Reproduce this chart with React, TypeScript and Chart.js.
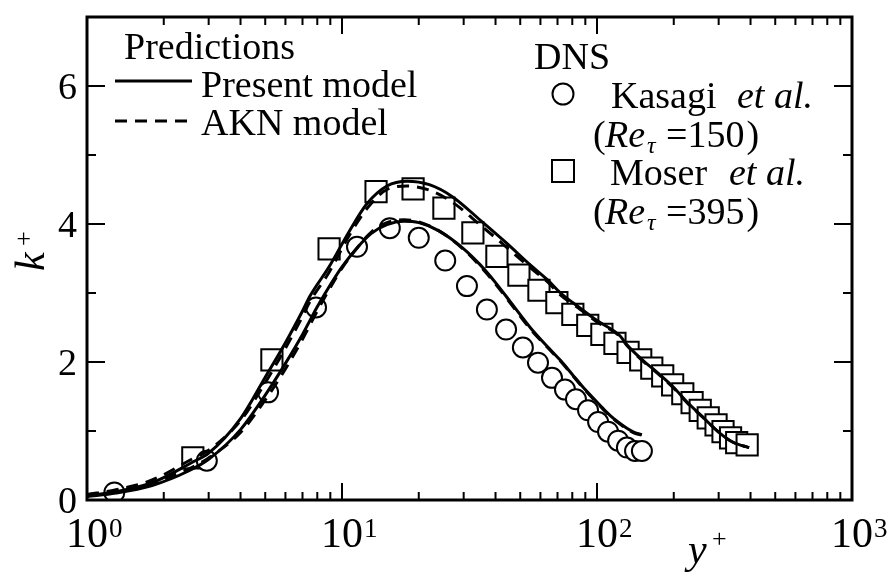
import React, { useEffect, useRef } from "react";
import { Chart, registerables } from "chart.js";

Chart.register(...registerables);

// ---- Model predictions, Re_tau = 150 ----
const yPlusModel150 = [1, 1.3, 1.8, 2.5, 3, 4, 5, 6, 7, 8, 9, 10, 11.5, 13, 15, 17.5, 20, 24, 30, 35, 40, 46, 55, 64, 72, 80, 87, 97, 106, 113, 122, 131, 140, 150];
const kPresent150 = [0.05, 0.1, 0.21, 0.42, 0.59, 1.02, 1.52, 1.98, 2.4, 2.8, 3.12, 3.38, 3.66, 3.86, 3.99, 4.04, 4.02, 3.9, 3.64, 3.4, 3.15, 2.86, 2.49, 2.22, 2.02, 1.82, 1.66, 1.47, 1.32, 1.22, 1.12, 1.04, 0.98, 0.945];
const kAKN150 = [0.07, 0.13, 0.25, 0.45, 0.61, 0.98, 1.45, 1.9, 2.33, 2.74, 3.08, 3.36, 3.66, 3.88, 4.02, 4.06, 4.03, 3.9, 3.63, 3.38, 3.13, 2.84, 2.47, 2.21, 2.01, 1.81, 1.65, 1.46, 1.31, 1.21, 1.11, 1.03, 0.97, 0.94];

// ---- Model predictions, Re_tau = 395 ----
const yPlusModel395 = [1, 1.3, 1.8, 2.6, 3, 4, 5, 6, 7, 7.5, 8.9, 10.7, 12.5, 15, 18, 22, 27, 35, 44, 55, 64, 72, 86, 100, 123, 131, 156, 166, 200, 224, 260, 303, 340, 370, 395];
const kPresent395 = [0.06, 0.12, 0.25, 0.55, 0.68, 1.18, 1.78, 2.28, 2.74, 2.96, 3.38, 3.9, 4.29, 4.55, 4.62, 4.57, 4.4, 4.05, 3.73, 3.4, 3.19, 3.0, 2.78, 2.6, 2.38, 2.25, 1.98, 1.9, 1.63, 1.43, 1.2, 0.97, 0.84, 0.79, 0.76];
const kAKN395 = [0.08, 0.15, 0.29, 0.6, 0.72, 1.15, 1.7, 2.2, 2.66, 2.88, 3.3, 3.84, 4.22, 4.5, 4.55, 4.49, 4.32, 3.98, 3.67, 3.36, 3.16, 2.97, 2.76, 2.58, 2.37, 2.24, 1.97, 1.89, 1.62, 1.42, 1.2, 0.97, 0.84, 0.79, 0.76];

// ---- DNS: Kasagi et al. (Re_tau = 150) ----
const yPlusKasagi = [1.28, 2.95, 5.13, 7.91, 11.45, 15.4, 20.0, 25.4, 30.9, 37.0, 44.0, 51.2, 58.7, 66.6, 74.9, 82.7, 92.2, 101, 110.5, 121, 131, 141, 150];
const kKasagi = [0.11, 0.57, 1.56, 2.79, 3.67, 3.94, 3.8, 3.47, 3.1, 2.76, 2.47, 2.21, 1.99, 1.77, 1.6, 1.46, 1.3, 1.13, 0.99, 0.86, 0.76, 0.71, 0.71];

// ---- DNS: Moser et al. (Re_tau = 395) ----
const yPlusMoser = [2.6, 5.31, 8.9, 13.6, 19.0, 25.1, 32.6, 40.5, 49.4, 59.2, 69.6, 80.4, 92.0, 104.5, 117.6, 132.4, 148.4, 164, 181, 198, 217, 236, 254, 273, 293, 312, 334, 353, 388];
const kMoser = [0.61, 2.03, 3.64, 4.47, 4.51, 4.23, 3.87, 3.53, 3.26, 3.04, 2.86, 2.69, 2.53, 2.4, 2.27, 2.14, 2.03, 1.91, 1.8, 1.67, 1.54, 1.41, 1.3, 1.19, 1.09, 0.99, 0.9, 0.83, 0.8];

// ---- Axes ----
const xMajorTicks = [1, 10, 100, 1000];
const xTickExponents = ["0", "1", "2", "3"];
const yMajorTicks = [0, 2, 4, 6];
const yMinorTicks = [1, 3, 5];

const FONT = "'Liberation Serif', 'Times New Roman', serif";

export default function App() {
  const ref = useRef<HTMLCanvasElement>(null);

  useEffect(() => {
    const canvas = ref.current;
    if (!canvas) return;
    const pts = (xs: number[], ys: number[]) => xs.map((x, i) => ({ x, y: ys[i] }));

    const decor = {
      id: "decor",
      afterDraw(chart: any) {
        const ctx = chart.ctx as CanvasRenderingContext2D;
        const { left, right, top, bottom } = chart.chartArea;
        const xs = chart.scales.x;
        const ys = chart.scales.y;
        ctx.save();
        ctx.strokeStyle = "#000";
        ctx.fillStyle = "#000";
        ctx.lineCap = "butt";

        // inward ticks
        ctx.lineWidth = 2;
        const xMinor: number[] = [];
        for (let d = 1; d < 1000; d *= 10) for (let m = 2; m <= 9; m++) xMinor.push(d * m);
        const vt = (px: number, len: number) => {
          ctx.beginPath();
          ctx.moveTo(px, bottom);
          ctx.lineTo(px, bottom - len);
          ctx.moveTo(px, top);
          ctx.lineTo(px, top + len);
          ctx.stroke();
        };
        xMinor.forEach((v) => vt(xs.getPixelForValue(v), 8));
        xMajorTicks.forEach((v) => vt(xs.getPixelForValue(v), 17));
        const ht = (py: number, len: number) => {
          ctx.beginPath();
          ctx.moveTo(left, py);
          ctx.lineTo(left + len, py);
          ctx.moveTo(right, py);
          ctx.lineTo(right - len, py);
          ctx.stroke();
        };
        yMinorTicks.forEach((v) => ht(ys.getPixelForValue(v), 9));
        yMajorTicks.forEach((v) => ht(ys.getPixelForValue(v), 18));

        // frame
        ctx.lineWidth = 3;
        ctx.strokeRect(left, top, right - left, bottom - top);

        // y tick labels
        ctx.textBaseline = "alphabetic";
        ctx.textAlign = "right";
        ctx.font = `38px ${FONT}`;
        yMajorTicks.forEach((v) => {
          ctx.fillText(String(v), 77, ys.getPixelForValue(v) + 13);
        });

        // x tick labels: 10^n
        xMajorTicks.forEach((v, i) => {
          const px = xs.getPixelForValue(v);
          ctx.font = `42px ${FONT}`;
          ctx.textAlign = "center";
          ctx.fillText("10", px, 547);
          const w = ctx.measureText("10").width;
          ctx.font = `27px ${FONT}`;
          ctx.textAlign = "left";
          ctx.fillText(xTickExponents[i], px + w / 2 + 1, 537);
        });

        // x axis title y+
        ctx.textAlign = "left";
        ctx.font = `italic 42px ${FONT}`;
        ctx.fillText("y", 688, 563);
        ctx.font = `26px ${FONT}`;
        ctx.fillText("+", 712, 547);

        // y axis title k+ (rotated)
        ctx.save();
        ctx.translate(44, 271);
        ctx.rotate(-Math.PI / 2);
        ctx.font = `italic 42px ${FONT}`;
        ctx.fillText("k", 0, 0);
        ctx.font = `26px ${FONT}`;
        ctx.fillText("+", 25, -12);
        ctx.restore();

        // Legend: predictions
        ctx.font = `38px ${FONT}`;
        ctx.fillText("Predictions", 124, 59);
        ctx.fillText("Present model", 201, 97);
        ctx.fillText("AKN model", 201, 135);
        ctx.lineWidth = 3;
        ctx.beginPath();
        ctx.moveTo(115, 81);
        ctx.lineTo(192, 81);
        ctx.stroke();
        ctx.setLineDash([12, 8]);
        ctx.beginPath();
        ctx.moveTo(115, 121);
        ctx.lineTo(192, 121);
        ctx.stroke();
        ctx.setLineDash([]);

        // Legend: DNS
        ctx.fillText("DNS", 534, 69);
        ctx.lineWidth = 2;
        ctx.beginPath();
        ctx.arc(563, 94, 10.5, 0, Math.PI * 2);
        ctx.stroke();
        ctx.strokeRect(552, 160, 22, 22);

        const reLine = (base: number, num: string) => {
          ctx.font = `38px ${FONT}`;
          ctx.fillText("(", 593, base);
          ctx.font = `italic 38px ${FONT}`;
          ctx.fillText("Re", 605, base);
          ctx.font = `italic 24px ${FONT}`;
          ctx.fillText("\u03c4", 647, base + 6);
          ctx.font = `38px ${FONT}`;
          const s = "=" + num;
          ctx.fillText(s, 666, base);
          ctx.fillText(")", 666 + ctx.measureText(s).width + 2, base);
        };
        ctx.font = `38px ${FONT}`;
        ctx.fillText("Kasagi", 611, 108);
        ctx.font = `italic 38px ${FONT}`;
        ctx.fillText("et al.", 737, 108);
        reLine(147, "150");
        ctx.font = `38px ${FONT}`;
        ctx.fillText("Moser", 610, 185);
        ctx.font = `italic 38px ${FONT}`;
        ctx.fillText("et al.", 729, 185);
        reLine(224, "395");

        ctx.restore();
      },
    };

    const lineDs = (label: string, xs: number[], ys: number[], dashed: boolean) => ({
      label,
      data: pts(xs, ys),
      showLine: true,
      pointRadius: 0,
      borderColor: "#000",
      borderWidth: 3,
      borderDash: dashed ? [12, 8] : [],
      cubicInterpolationMode: "monotone" as const,
      fill: false,
      order: 0,
    });

    const chart = new Chart(canvas, {
      type: "scatter",
      data: {
        datasets: [
          lineDs("Present model Re150", yPlusModel150, kPresent150, false),
          lineDs("AKN model Re150", yPlusModel150, kAKN150, true),
          lineDs("Present model Re395", yPlusModel395, kPresent395, false),
          lineDs("AKN model Re395", yPlusModel395, kAKN395, true),
          {
            label: "Kasagi et al.",
            data: pts(yPlusKasagi, kKasagi),
            showLine: false,
            pointStyle: "circle",
            pointRadius: 10,
            pointBorderWidth: 2,
            borderColor: "#000",
            backgroundColor: "#fff",
            order: 2,
          },
          {
            label: "Moser et al.",
            data: pts(yPlusMoser, kMoser),
            showLine: false,
            pointStyle: "rect",
            pointRadius: 15,
            pointBorderWidth: 2,
            borderColor: "#000",
            backgroundColor: "#fff",
            order: 2,
          },
        ],
      },
      options: {
        animation: false,
        responsive: false,
        maintainAspectRatio: false,
        events: [],
        layout: { padding: { left: 87, top: 9, right: 40, bottom: 77 } },
        plugins: { legend: { display: false }, tooltip: { enabled: false } },
        scales: {
          x: { type: "logarithmic", min: 1, max: 1000, display: false },
          y: { type: "linear", min: 0, max: 7, display: false },
        },
      },
      plugins: [decor],
    });
    return () => chart.destroy();
  }, []);

  return (
    <div style={{ position: "fixed", left: 0, top: 0, width: 892, height: 577, background: "#fff" }}>
      <canvas ref={ref} width={892} height={577} style={{ width: 892, height: 577, display: "block" }} />
    </div>
  );
}
